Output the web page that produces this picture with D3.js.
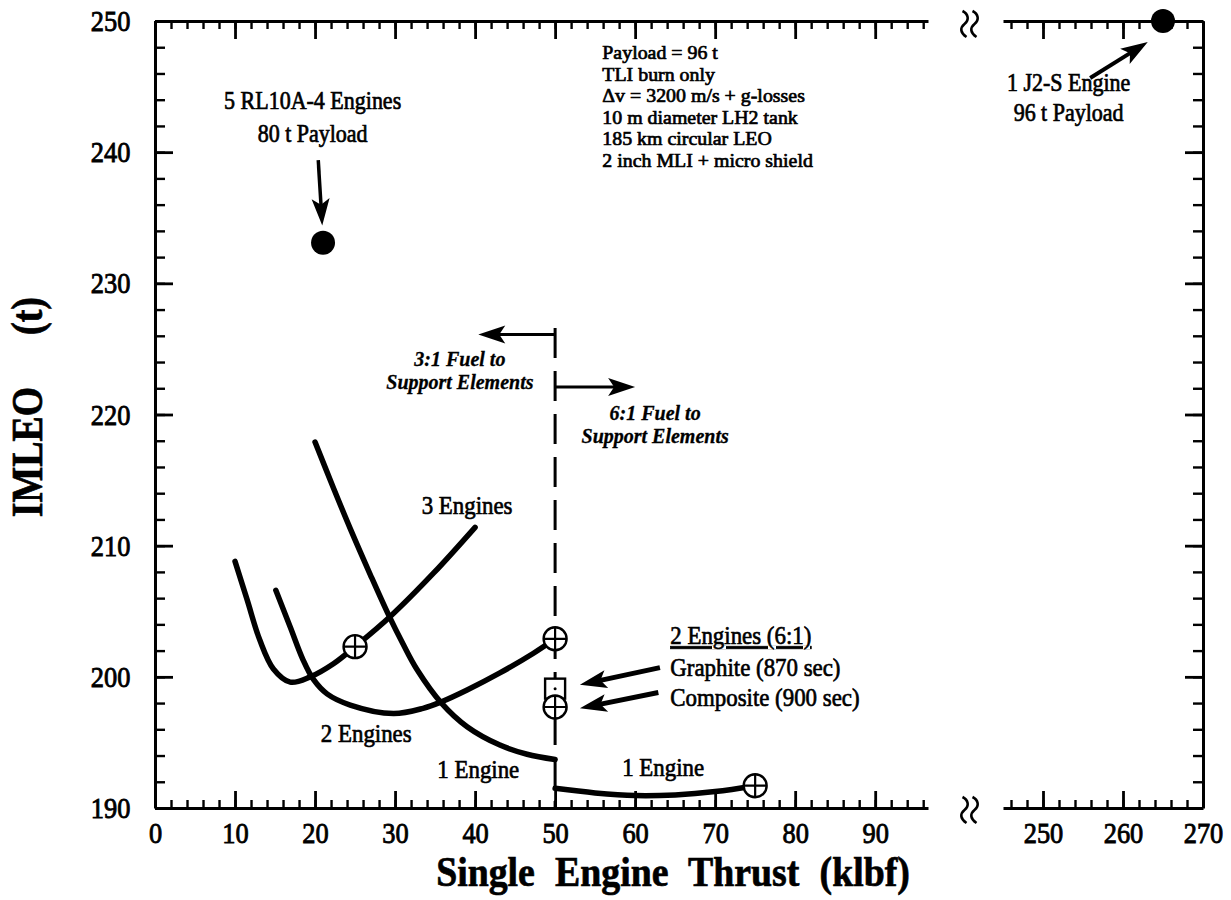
<!DOCTYPE html>
<html>
<head>
<meta charset="utf-8">
<script src="https://cdn.jsdelivr.net/npm/d3@7"></script>
<style>
  body { margin: 0; background: #fff; }
  svg text { font-family: "Liberation Serif", "Times New Roman", serif; fill: #000; }
  .ink { stroke: #000; stroke-width: 0.7px; }
</style>
</head>
<body>
<div id="chart"></div>
<script>
// ---- data (thrust in klbf, IMLEO in t) ----
const threeEngThrust = [10, 11.5, 13.1, 14.8, 16.9, 19.4, 22.3, 25, 29.4, 34.8, 40];
const threeEngImleo  = [208.8, 205.9, 202.8, 200.6, 199.6, 200.0, 201.0, 202.3, 204.6, 207.9, 211.4];

const twoEngThrust = [15.1, 16.9, 18.5, 19.8, 21.5, 24.4, 29.8, 33.5, 35.8, 39, 43.1, 47.3, 50];
const twoEngImleo  = [206.6, 203.8, 201.3, 199.8, 198.7, 197.85, 197.2, 197.6, 198.1, 199.0, 200.3, 201.8, 202.9];

const oneEngThrust = [20, 22.3, 24.4, 26.9, 29.2, 31, 32.7, 35.8, 39, 43.1, 46.5, 50];
const oneEngImleo  = [217.9, 214.4, 211.3, 207.8, 204.7, 202.5, 200.6, 198.0, 196.2, 194.8, 194.1, 193.7];

const oneEng61Thrust = [50, 55, 60, 65, 70, 75];
const oneEng61Imleo  = [191.5, 191.15, 190.95, 191.0, 191.25, 191.7];

// circled-cross design points, square (graphite) and solid dots
const crossThrust = [25, 50, 50, 75];
const crossImleo  = [202.3, 202.9, 197.7, 191.7];
const squareThrust = [50];
const squareImleo  = [199.1];
const dotThrust = [21, 265];
const dotImleo  = [233.1, 250];

// axis ticks
const xTicksLo = [0, 10, 20, 30, 40, 50, 60, 70, 80, 90];
const xTicksHi = [250, 260, 270];
const yTicks = [190, 200, 210, 220, 230, 240, 250];

// annotation text and anchor points (data units)
const payloadNotes = ["Payload = 96 t", "TLI burn only", "\u0394v = 3200 m/s + g-losses",
  "10 m diameter LH2 tank", "185 km circular LEO", "2 inch MLI + micro shield"];
const rl10Notes = ["5 RL10A-4 Engines", "80 t Payload"];
const j2sNotes = ["1 J2-S Engine", "96 t Payload"];
const fuelLeftNotes = ["3:1 Fuel to", "Support Elements"];
const fuelRightNotes = ["6:1 Fuel to", "Support Elements"];
const legendNotes = ["2 Engines (6:1)", "Graphite (870 sec)", "Composite (900 sec)"];
const curveNames = ["3 Engines", "2 Engines", "1 Engine", "1 Engine"];
const curveNameT = [39, 26.4, 40.4, 63.5];
const curveNameV = [213.1, 195.7, 193.0, 193.1];

// arrows: from (t1,v1) to tip (t2,v2)
const arrowT1 = [20.4, 255.9, 63.1, 62.9, 50, 50];
const arrowV1 = [239.4, 245.65, 200.7, 198.8, 226.1, 222.1];
const arrowT2 = [20.9, 263.1, 53.1, 53.1, 40.4, 60];
const arrowV2 = [234.4, 248.4, 199.4, 197.6, 226.1, 222.1];
const fuelSplit = [226.6, 190];   // dashed divider at 50 klbf

const W = 1231, H = 900;
const svg = d3.select('#chart').append('svg').attr('width', W).attr('height', H);

const xLo = d3.scaleLinear().domain([0, 96.6]).range([155, 928]);
const xHi = d3.scaleLinear().domain([245, 270]).range([1003, 1203]);
const y = d3.scaleLinear().domain([190, 250]).range([808, 21]);
const x = v => (v <= 100 ? xLo(v) : xHi(v));

const SQ = 0.88; // scanned type looks condensed

// ---- axes ----
function styleAxis(g, lineW) {
  g.select('.domain').attr('stroke', '#000').attr('stroke-width', 3);
  g.selectAll('.tick line').attr('stroke', '#000').attr('stroke-width', lineW);
  g.attr('font-family', null).attr('font-size', null);
}
function minor(a, b) { return d3.range(a, b + 0.01, 2); }

function xAxes(scale, major, minorVals) {
  // bottom
  let g = svg.append('g').attr('transform', 'translate(0,' + y(190) + ')')
    .call(d3.axisBottom(scale).tickValues(minorVals).tickSize(-8).tickSizeOuter(0).tickFormat(''));
  styleAxis(g, 2.4);
  g = svg.append('g').attr('transform', 'translate(0,' + y(190) + ')')
    .call(d3.axisBottom(scale).tickValues(major).tickSize(-17).tickSizeOuter(0).tickPadding(14));
  styleAxis(g, 2.8);
  g.select('.domain').remove();
  g.selectAll('.tick text').attr('font-size', 30).attr('class', 'ink').style('stroke-width', '0.9px')
    .attr('transform', 'scale(' + SQ + ',1)');
  // top
  g = svg.append('g').attr('transform', 'translate(0,' + y(250) + ')')
    .call(d3.axisTop(scale).tickValues(minorVals).tickSize(-8).tickSizeOuter(0).tickFormat(''));
  styleAxis(g, 2.4);
  g = svg.append('g').attr('transform', 'translate(0,' + y(250) + ')')
    .call(d3.axisTop(scale).tickValues(major.filter(d => d < scale.domain()[1])).tickSize(-18).tickSizeOuter(0).tickFormat(''));
  styleAxis(g, 2.8);
  g.select('.domain').remove();
}
xAxes(xLo, xTicksLo, minor(0, 96));
xAxes(xHi, xTicksHi, minor(246, 270));

function yAxis(xpos, gen, labels) {
  let g = svg.append('g').attr('transform', 'translate(' + xpos + ',0)')
    .call(gen(y).tickValues(minor(190, 250)).tickSize(-10).tickSizeOuter(0).tickFormat(''));
  styleAxis(g, 2.4);
  g = svg.append('g').attr('transform', 'translate(' + xpos + ',0)')
    .call(gen(y).tickValues(yTicks).tickSize(-18).tickSizeOuter(0).tickPadding(28)
      .tickFormat(labels ? d3.format('d') : ''));
  styleAxis(g, 2.8);
  g.select('.domain').remove();
  g.selectAll('.tick text').attr('font-size', 30).attr('class', 'ink').style('stroke-width', '0.9px')
    .attr('transform', 'scale(' + SQ + ',1)');
}
yAxis(xLo(0), d3.axisLeft, true);
yAxis(xHi(270), d3.axisRight, false);

// axis break marks
const breakX = (xLo(96.6) + xHi(245)) / 2 + 4;
[y(250) + 3, y(190) + 2].forEach(cy => {
  [-5, 5].forEach(off => {
    svg.append('path')
      .attr('d', 'M' + (breakX + off - 2) + ',' + (cy - 13) +
        ' c6,3 7,9 2,13 s-4,9 2,13')
      .attr('fill', 'none').attr('stroke', '#000').attr('stroke-width', 2.6);
  });
});

// ---- titles ----
svg.append('text').attr('class', 'ink')
  .attr('transform', 'translate(' + ((xLo(0) + xHi(270)) / 2 - 6) + ',886) scale(0.9,1)')
  .attr('text-anchor', 'middle').attr('font-size', 42).attr('font-weight', 'bold')
  .attr('word-spacing', 12)
  .text('Single Engine Thrust (klbf)');
svg.append('text').attr('class', 'ink')
  .attr('transform', 'translate(42,452) rotate(-90) scale(0.86,1)')
  .attr('text-anchor', 'middle').attr('font-size', 44).attr('font-weight', 'bold')
  .text('IMLEO');
svg.append('text').attr('class', 'ink')
  .attr('transform', 'translate(42,316) rotate(-90) scale(0.86,1)')
  .attr('text-anchor', 'middle').attr('font-size', 44).attr('font-weight', 'bold')
  .text('(t)');

// ---- divider and curves ----
svg.append('line')
  .attr('x1', x(50)).attr('x2', x(50)).attr('y1', y(fuelSplit[0])).attr('y2', y(fuelSplit[1]))
  .attr('stroke', '#000').attr('stroke-width', 3).attr('stroke-dasharray', '30 13');

const line = d3.line().x(d => x(d[0])).y(d => y(d[1])).curve(d3.curveCatmullRom.alpha(0.5));
[[threeEngThrust, threeEngImleo], [twoEngThrust, twoEngImleo],
 [oneEngThrust, oneEngImleo], [oneEng61Thrust, oneEng61Imleo]].forEach(s => {
  svg.append('path')
    .datum(d3.zip(s[0], s[1]))
    .attr('d', line)
    .attr('fill', 'none').attr('stroke', '#000').attr('stroke-width', 5.5)
    .attr('stroke-linecap', 'round').attr('stroke-linejoin', 'round');
});

// ---- markers ----
svg.selectAll('.sq').data(d3.zip(squareThrust, squareImleo)).enter().append('g')
  .attr('transform', d => 'translate(' + x(d[0]) + ',' + y(d[1]) + ')')
  .each(function () {
    const g = d3.select(this);
    g.append('rect').attr('x', -10).attr('y', -10).attr('width', 20).attr('height', 20)
      .attr('fill', '#fff').attr('stroke', '#000').attr('stroke-width', 2.4);
    g.append('circle').attr('r', 1.5).attr('fill', '#000');
  });

svg.selectAll('.cross').data(d3.zip(crossThrust, crossImleo)).enter().append('g')
  .attr('transform', d => 'translate(' + x(d[0]) + ',' + y(d[1]) + ')')
  .each(function () {
    const g = d3.select(this);
    g.append('circle').attr('r', 11.5).attr('fill', '#fff').attr('stroke', '#000').attr('stroke-width', 2.4);
    g.append('path').attr('d', 'M-11.5,0H11.5M0,-11.5V11.5').attr('stroke', '#000').attr('stroke-width', 2.2);
  });

svg.selectAll('.dot').data(d3.zip(dotThrust, dotImleo)).enter().append('circle')
  .attr('cx', d => x(d[0])).attr('cy', d => y(d[1])).attr('r', 12).attr('fill', '#000');

// ---- arrows ----
const arrowW = [3.5, 4, 5, 5, 3, 3];
arrowT1.forEach((t, i) => {
  const x1 = x(t), y1 = y(arrowV1[i]), x2 = x(arrowT2[i]), y2 = y(arrowV2[i]);
  const dx = x2 - x1, dy = y2 - y1, len = Math.hypot(dx, dy);
  const ux = dx / len, uy = dy / len, hl = 27, hw = 9;
  svg.append('line').attr('x1', x1).attr('y1', y1)
    .attr('x2', x2 - ux * hl * 0.6).attr('y2', y2 - uy * hl * 0.6)
    .attr('stroke', '#000').attr('stroke-width', arrowW[i]);
  const bx = x2 - ux * hl, by = y2 - uy * hl;
  svg.append('path')
    .attr('d', 'M' + x2 + ',' + y2 + 'L' + (bx - uy * hw) + ',' + (by + ux * hw) +
      'L' + (bx + ux * 6) + ',' + (by + uy * 6) +
      'L' + (bx + uy * hw) + ',' + (by - ux * hw) + 'Z')
    .attr('fill', '#000');
});

// ---- text notes ----
function note(t, v, str, size, anchor, opts) {
  opts = opts || {};
  const sx = opts.sx || SQ;
  const el = svg.append('text').attr('class', 'ink')
    .attr('transform', 'translate(' + x(t) + ',' + (y(v) + (opts.dy || 0)) + ') scale(' + sx + ',1)')
    .attr('dy', '0.35em')
    .attr('text-anchor', anchor).attr('font-size', size)
    .text(str);
  if (opts.italic) el.attr('font-style', 'italic').attr('font-weight', 'bold').style('stroke-width', '0.3px');
  if (opts.underline) el.attr('text-decoration', 'underline');
  return el;
}

payloadNotes.forEach((s, i) => note(55.9, 247.6, s, 19.5, 'start', { dy: i * 21.5, sx: 1.02 }));
rl10Notes.forEach((s, i) => note(19.7, 243.98, s, 25, 'middle', { dy: i * 33 }));
j2sNotes.forEach((s, i) => note(253.2, 245.35, s, 25, 'middle', { dy: i * 30 }));
fuelLeftNotes.forEach((s, i) => note(38.1, 224.2, s, 20, 'middle', { dy: i * 22.5, italic: true, sx: 1 }));
fuelRightNotes.forEach((s, i) => note(62.5, 220.1, s, 20, 'middle', { dy: i * 22.5, italic: true, sx: 1 }));
legendNotes.forEach((s, i) => note(64.4, 203.19, s, 26, 'start',
  { dy: i === 0 ? 0 : 32 + (i - 1) * 30, underline: i === 0 }));
curveNames.forEach((s, i) => note(curveNameT[i], curveNameV[i], s, 26, 'middle'));
</script>
</body>
</html>
